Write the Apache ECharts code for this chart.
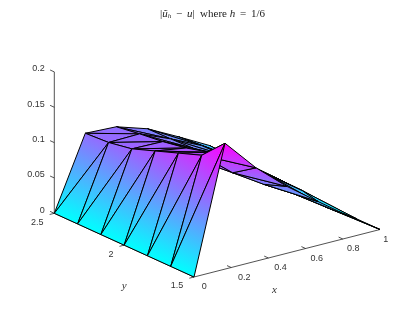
<!DOCTYPE html>
<html><head><meta charset="utf-8">
<style>html,body{margin:0;padding:0;background:#fff}#c{width:415px;height:312px}</style>
<script src="https://cdn.jsdelivr.net/npm/echarts@6/dist/echarts.min.js"></script>
</head><body><div id="c"></div>
<script>
// mesh node coordinates
const xNodes = [0, 1/6, 2/6, 3/6, 4/6, 5/6, 1];
const yNodes = [1.5, 1.5+1/6, 1.5+2/6, 2, 2+1/6, 2+2/6, 2.5];
// error values, one list per x node, ordered along yNodes
const zAtX0 = [0, 0, 0, 0, 0, 0, 0];
const zAtX1 = [.178, .146, .134, .122, .110, .104, .102];
const zAtX2 = [.132, .110, .124, .115, .109, .105, .100];
const zAtX3 = [.0945, .0825, .098, .090, .088, .0867, .086];
const zAtX4 = [.062, .0575, .067, .069, .067, .066, .0635];
const zAtX5 = [.030, .028, .036, .037, .038, .039, .040];
const zAtX6 = [0, 0, 0, 0, 0, 0, 0];
const zRows = [zAtX0, zAtX1, zAtX2, zAtX3, zAtX4, zAtX5, zAtX6];
// ticks
const xTicks = [0, 0.2, 0.4, 0.6, 0.8, 1];
const yTicks = [1.5, 2, 2.5];
const zTicks = [0, 0.05, 0.1, 0.15, 0.2];

// orthographic view of the plot box
const P0 = [194, 277];
const EX = [186, -47.5], EY = [-139.7, -63.7], EZ = [0, -707];
const proj = (x, y, z) => [
  P0[0] + EX[0]*x + EY[0]*(y-1.5) + EZ[0]*z,
  P0[1] + EX[1]*x + EY[1]*(y-1.5) + EZ[1]*z
];
const depth = (x, y, z) => 98.8*x + 131.5*(y-1.5) - 18.5*z;
const zMax = Math.max(...zRows.flat());

// triangles, far ones first
const tris = [];
for (let i = 0; i < 6; i++) for (let j = 0; j < 6; j++) {
  const v = (a, b) => [xNodes[a], yNodes[b], zRows[a][b]];
  tris.push([v(i, j+1), v(i+1, j+1), v(i+1, j)]);
  tris.push([v(i, j+1), v(i+1, j), v(i, j)]);
}
const meanDepth = t => t.reduce((s, p) => s + depth(p[0], p[1], p[2]), 0) / 3;
tris.sort((a, b) => meanDepth(b) - meanDepth(a));
const triData = tris.map(t => t.flat());

const C0 = '#00ffff', C1 = '#ff00ff';
function cool(t){const r=Math.round(255*t);return `rgb(${r},${255-r},255)`;}
function triFill(pts, vals) {
  const [a, b, c] = pts;
  const ux = b[0]-a[0], uy = b[1]-a[1], vx = c[0]-a[0], vy = c[1]-a[1];
  const det = ux*vy - uy*vx;
  const du = vals[1]-vals[0], dv = vals[2]-vals[0];
  if (Math.abs(det) < 1e-6) return cool((vals[0]+vals[1]+vals[2])/3);
  const gx = (du*vy - dv*uy)/det, gy = (dv*ux - du*vx)/det;
  const g2 = gx*gx + gy*gy;
  if (g2 < 1e-12) return cool(vals[0]);
  const sx = a[0] - gx/g2*vals[0], sy = a[1] - gy/g2*vals[0];
  return {type:'linear', global:true, x:sx, y:sy, x2:sx+gx/g2, y2:sy+gy/g2,
    colorStops:[{offset:0,color:C0},{offset:1,color:C1}]};
}

const AXC = '#262626', TXC = '#333';
const tf = '9px "Liberation Sans", Arial, sans-serif';
const lab = (p, text, align, font) => ({type:'text', silent:true,
  style:{x:p[0], y:p[1], text, fill:TXC, font:font||tf, align:align||'center', verticalAlign:'middle'}});
const seg = (a, b, w, col) => ({type:'line', silent:true,
  shape:{x1:a[0],y1:a[1],x2:b[0],y2:b[1]}, style:{stroke:col||AXC, lineWidth:w||0.8, fill:null}});

const tn = {fontFamily:'Liberation Serif',fontSize:11,fontWeight:'normal',color:'#222'};
const option = {
  backgroundColor:'#fff', animation:false,
  title:{ left:155, top:4, textStyle:{ fontWeight:'normal', rich:{
      n:tn,
      i:{...tn,fontStyle:'italic'},
      s:{...tn,fontSize:7,fontStyle:'italic',verticalAlign:'bottom',padding:[4,0,0,0]},
      g:{...tn,padding:[0,2,0,2]}
    }},
    text:'{n||}{i|ũ}{s|h}{g| − }{i|u}{n||  where }{i|h}{g| = }{n|1/6}' },
  tooltip:{show:false},
  grid:{left:0,right:0,top:0,bottom:0},
  xAxis:{type:'value',min:0,max:415,show:false},
  yAxis:{type:'value',min:0,max:312,inverse:true,show:false},
  series:[
    { type:'custom', coordinateSystem:'cartesian2d', silent:true, z:1, data:[0],
      renderItem(params, api){
        const S = (x,y,z)=>api.coord(proj(x,y,z));
        const ch = [];
        ch.push(seg(S(0,2.5,0), S(0,2.5,0.2)));
        ch.push(seg(S(0,2.5,0), S(0,1.5,0)));
        ch.push(seg(S(0,1.5,0), S(1,1.5,0)));
        zTicks.forEach(v=>{ ch.push(seg(S(0,2.5,v), S(0,2.53,v)));
          const p=S(0,2.5,v); ch.push(lab([p[0]-9.5,p[1]-3], String(v),'right')); });
        xTicks.forEach(v=>{ ch.push(seg(S(v,1.5,0), S(v,1.53,0)));
          const p=S(v,1.5,0); ch.push(lab([p[0]+7.7-4.5*v,p[1]+9.8], String(v),'left')); });
        yTicks.forEach(v=>{ ch.push(seg(S(0,v,0), S(-0.025,v,0)));
          const p=S(0,v,0); ch.push(lab([p[0]-10.7,p[1]+9], String(v),'right')); });
        const xm=S(0.5,1.5,0), ym=S(0,2,0);
        ch.push(lab([xm[0]-12.5,xm[1]+36.5],'x','center','italic 11px "Liberation Serif"'));
        ch.push(lab([ym[0],ym[1]+41],'y','center','italic 11px "Liberation Serif"'));
        return {type:'group',children:ch};
      }
    },
    { type:'custom', coordinateSystem:'cartesian2d', silent:true, z:2,
      data:triData, encode:{x:0,y:1},
      renderItem(params, api){
        const d = triData[params.dataIndex];
        const pts = [0,3,6].map(k=>api.coord(proj(d[k],d[k+1],d[k+2])));
        const vals = [d[2]/zMax,d[5]/zMax,d[8]/zMax];
        return {type:'polygon', silent:true, shape:{points:pts},
          style:{fill:triFill(pts,vals), stroke:'#000', lineWidth:1, lineJoin:'round'}};
      }
    }
  ]
};
const chart = echarts.init(document.getElementById('c'), null, {renderer:'canvas'});
chart.setOption(option);
</script></body></html>
